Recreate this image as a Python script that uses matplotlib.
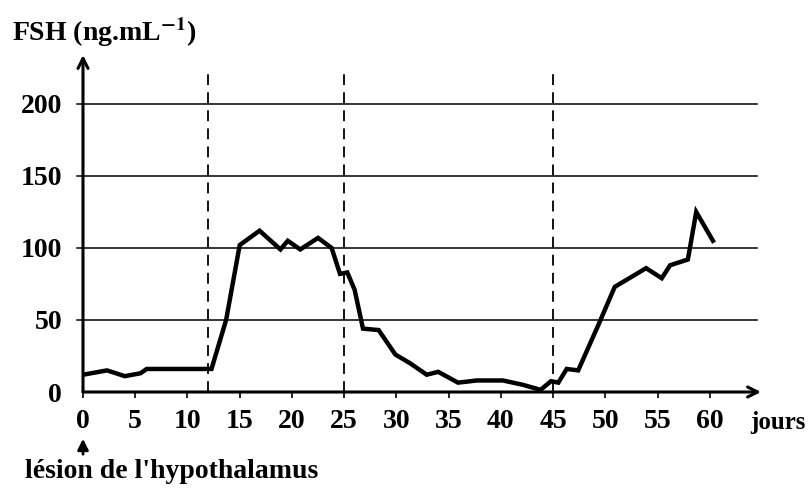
import matplotlib
matplotlib.use('Agg')
import matplotlib.pyplot as plt
from matplotlib.patches import FancyArrowPatch

# Data
days = [0, 2.3, 4, 5.5, 6.1, 12.3, 13.7, 15, 16.9, 18.9, 19.6, 20.8, 22.5, 23.8,
        24.6, 25.3, 26, 26.8, 28.3, 29.9, 31.3, 32.9, 34, 35.9, 37.7, 40.2,
        42.1, 43.8, 44.8, 45.5, 46.3, 47.4, 49.3, 50.9, 53.9, 55.4, 56.2,
        57.9, 58.7, 60.3]
fsh = [12, 15, 11, 13, 16, 16, 50, 102, 112, 99, 105, 99, 107, 100,
       82, 83, 71, 44, 43, 26, 20, 12, 14, 6.5, 8, 8,
       5, 1.5, 7.5, 6.5, 16, 15, 46, 73, 86, 79, 88,
       92, 125, 105]
phase_limits = [12, 25, 45]
y_grid = [50, 100, 150, 200]
x_ticks = list(range(0, 65, 5))

plt.rcParams['font.family'] = ['Liberation Serif', 'DejaVu Serif']
plt.rcParams['font.weight'] = 'bold'
plt.rcParams['mathtext.fontset'] = 'stix'
FS = 20

fig = plt.figure(figsize=(8.09, 4.95), dpi=100)
ax = fig.add_axes([83 / 809, 103 / 495, 678 / 809, 337 / 495])
ax.set_xlim(0, 64.9)
ax.set_ylim(0, 234)

# grid lines and phase separators
for g in y_grid:
    ax.plot([-0.6, 64.5], [g, g], color='black', lw=1.1, clip_on=False)
for d in phase_limits:
    ax.plot([d, d], [0, 225], color='black', lw=1.3, dashes=(6, 4))

ax.plot(days, fsh, color='black', lw=3.2, solid_joinstyle='miter')

# axes with arrow heads
for s in ['top', 'right', 'left', 'bottom']:
    ax.spines[s].set_visible(False)
ax.annotate('', xy=(0, 1), xytext=(0, 0), xycoords='axes fraction',
            arrowprops=dict(arrowstyle='->', lw=2.2, color='black',
                            mutation_scale=18, shrinkA=0, shrinkB=0))
ax.annotate('', xy=(1, 0), xytext=(0, 0), xycoords='axes fraction',
            arrowprops=dict(arrowstyle='->', lw=2.2, color='black',
                            mutation_scale=18, shrinkA=0, shrinkB=0))

ax.set_xticks(x_ticks)
ax.set_yticks([0] + y_grid)
ax.tick_params(axis='x', length=4, width=1.2, pad=8, labelsize=FS)
ax.tick_params(axis='y', length=0, pad=15, labelsize=FS)

fig.text(12 / 809, 1 - 32 / 495, 'FSH (ng.mL$^{\\mathbf{-1}}$)', fontsize=FS,
         va='center', ha='left')
fig.text(806 / 809, 1 - 422 / 495, 'jours', fontsize=18, va='center', ha='right')
fig.text(25 / 809, 1 - 472 / 495, "lésion de l'hypothalamus", fontsize=FS,
         va='center', ha='left')
fig.add_artist(FancyArrowPatch(
    (83 / 809, 1 - 457 / 495), (83 / 809, 1 - 436 / 495),
    transform=fig.transFigure, arrowstyle='-|>', mutation_scale=16,
    lw=2, color='black'))

fig.savefig('out.png', dpi=100)
